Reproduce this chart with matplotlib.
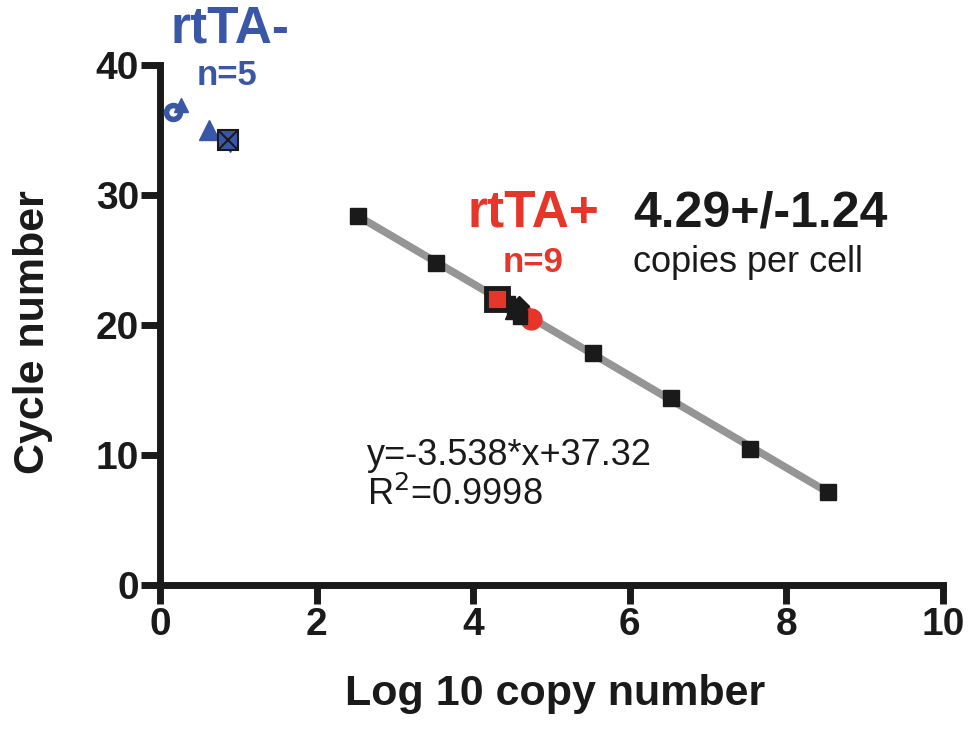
import numpy as np
import matplotlib
matplotlib.use('Agg')
import matplotlib.pyplot as plt

plt.rcParams['font.family'] = ['Liberation Sans', 'DejaVu Sans']

# standard curve
std_x = [2.53, 3.53, 4.53, 5.53, 6.53, 7.53, 8.53]
std_y = [28.35, 24.75, 21.25, 17.85, 14.35, 10.45, 7.15]
slope, intercept = -3.538, 37.32

# rtTA+ samples
pos_x = [4.31, 4.45, 4.52, 4.56, 4.60, 4.62, 4.58, 4.50, 4.74]
pos_y = [22.0, 21.7, 21.3, 20.9, 20.6, 21.1, 21.5, 21.0, 20.5]
pos_marker = ['s', 's', '^', 'v', 's', 'o', 'D', '^', 'o']

# rtTA- samples
neg_x = [0.17, 0.27, 0.63, 0.87, 0.90]
neg_y = [36.4, 36.9, 35.0, 34.2, 33.7]

blue = '#3a57a7'
red = '#e8352a'
dark = '#1a1a1a'

fig = plt.figure(figsize=(9.69, 7.32), dpi=100)
ax = fig.add_axes([0.1651, 0.2008, 0.8081, 0.7104])

fx = np.array([std_x[0], std_x[-1]])
ax.plot(fx, slope * fx + intercept, color='#959595', lw=5.5, solid_capstyle='butt', zorder=2)
ax.plot(std_x, std_y, 's', color=dark, ms=11.5, zorder=3)

# rtTA+ cluster
for x, y, m in zip(pos_x[1:8], pos_y[1:8], pos_marker[1:8]):
    if m == 'o':
        ax.plot(x, y, m, color=red, ms=12, zorder=4)
    else:
        ax.plot(x, y, m, color=dark, mfc=dark, ms=10, zorder=5)
ax.plot(pos_x[8], pos_y[8], 'o', color=red, ms=15, zorder=4)
ax.plot(pos_x[0], pos_y[0], 's', mfc=red, mec=dark, mew=3.5, ms=16, zorder=6)

# rtTA- cluster
ax.plot(neg_x[0], neg_y[0], 'o', mfc='white', mec=blue, mew=4, ms=10, zorder=4)
ax.plot(neg_x[1], neg_y[1], '^', color=blue, ms=10, zorder=4)
ax.plot(neg_x[2], neg_y[2], '^', color=blue, ms=14, zorder=4)
ax.plot(neg_x[4], neg_y[4], 'v', color=blue, ms=7, zorder=4)
ax.plot(neg_x[3], neg_y[3], 's', mfc=blue, mec=dark, mew=1.5, ms=15, zorder=5)
ax.plot(neg_x[3], neg_y[3], 'x', color=dark, mew=1.5, ms=14, zorder=6)

ax.set_xlim(0, 10)
ax.set_ylim(0, 40)
ax.set_xticks([0, 2, 4, 6, 8, 10])
ax.set_yticks([0, 10, 20, 30, 40])
for s in ['top', 'right']:
    ax.spines[s].set_visible(False)
for s in ['left', 'bottom']:
    ax.spines[s].set_linewidth(5)
    ax.spines[s].set_color(dark)
    ax.spines[s].set_capstyle('projecting')
ax.tick_params(axis='both', width=5, length=14, color=dark, labelsize=28)
ax.tick_params(axis='x', pad=2)
ax.tick_params(axis='y', pad=1)
for lab in ax.get_xticklabels() + ax.get_yticklabels():
    lab.set_fontweight('bold')
    lab.set_color(dark)

ax.set_xlabel('Log 10 copy number', fontsize=31, fontweight='bold', color=dark)
ax.set_ylabel('Cycle number', fontsize=31, fontweight='bold', color=dark)
ax.xaxis.set_label_coords(0.504, -0.171)
ax.yaxis.set_label_coords(-0.137, 0.487)

ax.text(0.13, 41.7, 'rtTA-', color=blue, fontsize=37, fontweight='bold', va='baseline', clip_on=False)
ax.text(0.47, 38.45, 'n=5', color=blue, fontsize=25, fontweight='bold', va='baseline', clip_on=False)
ax.text(3.93, 27.6, 'rtTA+', color=red, fontsize=37, fontweight='bold', va='baseline')
ax.text(4.37, 24.08, 'n=9', color=red, fontsize=25, fontweight='bold', va='baseline')
ax.text(6.04, 27.6, '4.29+/-1.24', color=dark, fontsize=36, fontweight='bold', va='baseline')
ax.text(6.04, 24.08, 'copies per cell', color=dark, fontsize=26, va='baseline')
ax.text(2.64, 9.23, 'y=-3.538*x+37.32', color=dark, fontsize=26, va='baseline')
ax.text(2.64, 6.15, r'R$^{2}$=0.9998', color=dark, fontsize=26, va='baseline')

fig.savefig('out.png', dpi=100)
